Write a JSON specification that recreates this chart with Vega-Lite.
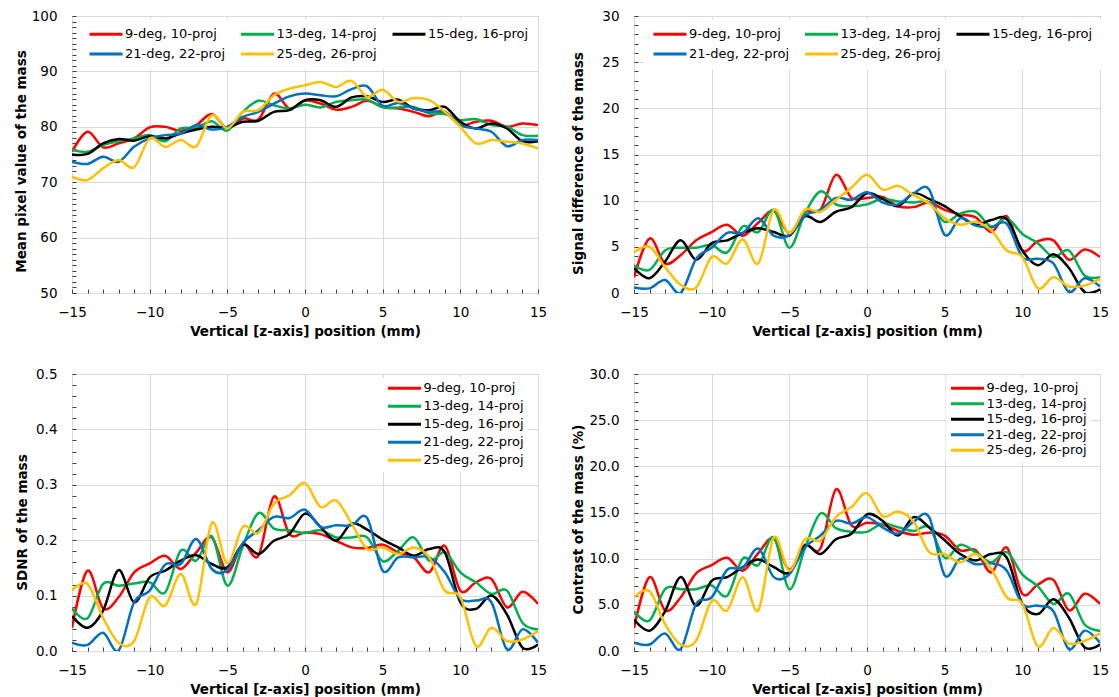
{
"$schema": "https://vega.github.io/schema/vega-lite/v6.json",
"autosize": "none",
"padding": {"left": 72, "top": 16, "right": 1047, "bottom": 681},
"background": "white",
"config": {
  "font": "DejaVu Sans",
  "view": {"stroke": "#595959", "strokeWidth": 1},
  "axis": {"domain": false, "labelFont": "DejaVu Sans", "labelFontSize": 13.5, "labelColor": "#000000", "titleFont": "DejaVu Sans", "titleFontSize": 13.5, "titleFontWeight": "bold", "titleColor": "#000000", "gridColor": "#D9D9D9", "tickColor": "#404040", "tickSize": -4, "tickWidth": 1, "labelFlush": false, "labelOverlap": false, "titleBaseline": "middle"},
  "axisX": {"labelPadding": 16},
  "axisY": {"labelPadding": 19},
  "legend": {"orient": "none", "labelFont": "DejaVu Sans", "labelFontSize": 13, "labelColor": "#000000", "symbolType": "M-1,0H5.6", "symbolSize": 100, "symbolStrokeWidth": 3, "labelOffset": 24, "fillColor": "#FFFFFF"}
},
"data": {"values": [
{"s":"9-deg, 10-proj","x":-15,"m":75.5,"d":1.7,"n":0.042,"c":2.5},
{"s":"9-deg, 10-proj","x":-14,"m":79.1,"d":5.9,"n":0.145,"c":8.0},
{"s":"9-deg, 10-proj","x":-13,"m":76.3,"d":3.2,"n":0.077,"c":4.4},
{"s":"9-deg, 10-proj","x":-12,"m":77.0,"d":4.1,"n":0.097,"c":5.8},
{"s":"9-deg, 10-proj","x":-11,"m":77.9,"d":5.7,"n":0.142,"c":8.4},
{"s":"9-deg, 10-proj","x":-10,"m":79.9,"d":6.6,"n":0.158,"c":9.3},
{"s":"9-deg, 10-proj","x":-9,"m":80.0,"d":7.4,"n":0.172,"c":10.1},
{"s":"9-deg, 10-proj","x":-8,"m":79.3,"d":6.2,"n":0.148,"c":8.7},
{"s":"9-deg, 10-proj","x":-7,"m":80.3,"d":7.6,"n":0.178,"c":10.6},
{"s":"9-deg, 10-proj","x":-6,"m":82.3,"d":8.9,"n":0.205,"c":12.2},
{"s":"9-deg, 10-proj","x":-5,"m":79.7,"d":6.5,"n":0.142,"c":8.8},
{"s":"9-deg, 10-proj","x":-4,"m":81.5,"d":8.8,"n":0.193,"c":11.5},
{"s":"9-deg, 10-proj","x":-3,"m":81.3,"d":9.0,"n":0.172,"c":11.1},
{"s":"9-deg, 10-proj","x":-2,"m":86.0,"d":12.8,"n":0.279,"c":17.5},
{"s":"9-deg, 10-proj","x":-1,"m":83.3,"d":10.3,"n":0.211,"c":13.6},
{"s":"9-deg, 10-proj","x":0,"m":84.7,"d":10.3,"n":0.214,"c":13.9},
{"s":"9-deg, 10-proj","x":1,"m":84.2,"d":10.4,"n":0.211,"c":13.7},
{"s":"9-deg, 10-proj","x":2,"m":83.1,"d":9.4,"n":0.199,"c":13.0},
{"s":"9-deg, 10-proj","x":3,"m":83.6,"d":9.3,"n":0.187,"c":12.6},
{"s":"9-deg, 10-proj","x":4,"m":84.7,"d":9.8,"n":0.186,"c":12.8},
{"s":"9-deg, 10-proj","x":5,"m":83.6,"d":9.0,"n":0.192,"c":12.5},
{"s":"9-deg, 10-proj","x":6,"m":83.3,"d":8.5,"n":0.178,"c":10.9},
{"s":"9-deg, 10-proj","x":7,"m":82.7,"d":8.2,"n":0.169,"c":10.9},
{"s":"9-deg, 10-proj","x":8,"m":81.9,"d":6.6,"n":0.142,"c":8.5},
{"s":"9-deg, 10-proj","x":9,"m":82.7,"d":8.3,"n":0.190,"c":11.2},
{"s":"9-deg, 10-proj","x":10,"m":80.3,"d":4.6,"n":0.109,"c":6.2},
{"s":"9-deg, 10-proj","x":11,"m":80.9,"d":5.6,"n":0.124,"c":7.2},
{"s":"9-deg, 10-proj","x":12,"m":81.1,"d":5.7,"n":0.130,"c":7.7},
{"s":"9-deg, 10-proj","x":13,"m":80.0,"d":3.6,"n":0.079,"c":4.4},
{"s":"9-deg, 10-proj","x":14,"m":80.6,"d":4.7,"n":0.107,"c":6.2},
{"s":"9-deg, 10-proj","x":15,"m":80.3,"d":3.9,"n":0.085,"c":5.1},
{"s":"13-deg, 14-proj","x":-15,"m":75.8,"d":3.0,"n":0.077,"c":4.3},
{"s":"13-deg, 14-proj","x":-14,"m":75.5,"d":2.5,"n":0.059,"c":3.3},
{"s":"13-deg, 14-proj","x":-13,"m":76.7,"d":4.6,"n":0.121,"c":6.7},
{"s":"13-deg, 14-proj","x":-12,"m":77.4,"d":4.9,"n":0.118,"c":6.7},
{"s":"13-deg, 14-proj","x":-11,"m":77.9,"d":4.9,"n":0.122,"c":6.7},
{"s":"13-deg, 14-proj","x":-10,"m":78.5,"d":5.2,"n":0.124,"c":7.1},
{"s":"13-deg, 14-proj","x":-9,"m":77.4,"d":4.4,"n":0.106,"c":6.0},
{"s":"13-deg, 14-proj","x":-8,"m":79.7,"d":7.2,"n":0.181,"c":10.0},
{"s":"13-deg, 14-proj","x":-7,"m":79.8,"d":6.6,"n":0.163,"c":9.3},
{"s":"13-deg, 14-proj","x":-6,"m":81.0,"d":9.0,"n":0.207,"c":12.3},
{"s":"13-deg, 14-proj","x":-5,"m":79.3,"d":4.9,"n":0.118,"c":6.7},
{"s":"13-deg, 14-proj","x":-4,"m":82.7,"d":8.6,"n":0.189,"c":11.1},
{"s":"13-deg, 14-proj","x":-3,"m":84.7,"d":11.0,"n":0.249,"c":14.9},
{"s":"13-deg, 14-proj","x":-2,"m":83.9,"d":9.6,"n":0.221,"c":13.3},
{"s":"13-deg, 14-proj","x":-1,"m":83.3,"d":9.4,"n":0.218,"c":12.9},
{"s":"13-deg, 14-proj","x":0,"m":84.0,"d":9.6,"n":0.213,"c":12.9},
{"s":"13-deg, 14-proj","x":1,"m":83.5,"d":10.2,"n":0.218,"c":13.8},
{"s":"13-deg, 14-proj","x":2,"m":84.5,"d":9.9,"n":0.205,"c":13.4},
{"s":"13-deg, 14-proj","x":3,"m":84.8,"d":9.8,"n":0.205,"c":13.0},
{"s":"13-deg, 14-proj","x":4,"m":84.9,"d":9.8,"n":0.205,"c":13.4},
{"s":"13-deg, 14-proj","x":5,"m":83.5,"d":7.7,"n":0.162,"c":10.1},
{"s":"13-deg, 14-proj","x":6,"m":83.5,"d":8.6,"n":0.181,"c":11.5},
{"s":"13-deg, 14-proj","x":7,"m":83.6,"d":8.8,"n":0.205,"c":10.7},
{"s":"13-deg, 14-proj","x":8,"m":82.4,"d":7.2,"n":0.163,"c":9.6},
{"s":"13-deg, 14-proj","x":9,"m":82.3,"d":8.1,"n":0.178,"c":10.7},
{"s":"13-deg, 14-proj","x":10,"m":81.2,"d":6.4,"n":0.142,"c":8.3},
{"s":"13-deg, 14-proj","x":11,"m":81.4,"d":5.4,"n":0.124,"c":7.0},
{"s":"13-deg, 14-proj","x":12,"m":80.3,"d":3.9,"n":0.103,"c":5.1},
{"s":"13-deg, 14-proj","x":13,"m":80.0,"d":4.6,"n":0.109,"c":6.2},
{"s":"13-deg, 14-proj","x":14,"m":78.5,"d":1.9,"n":0.051,"c":2.9},
{"s":"13-deg, 14-proj","x":15,"m":78.4,"d":1.7,"n":0.039,"c":2.2},
{"s":"15-deg, 16-proj","x":-15,"m":75.0,"d":2.7,"n":0.063,"c":3.4},
{"s":"15-deg, 16-proj","x":-14,"m":75.1,"d":1.6,"n":0.042,"c":2.2},
{"s":"15-deg, 16-proj","x":-13,"m":77.0,"d":3.4,"n":0.073,"c":4.3},
{"s":"15-deg, 16-proj","x":-12,"m":77.8,"d":5.7,"n":0.146,"c":8.0},
{"s":"15-deg, 16-proj","x":-11,"m":77.5,"d":3.6,"n":0.088,"c":4.9},
{"s":"15-deg, 16-proj","x":-10,"m":78.3,"d":5.4,"n":0.133,"c":7.6},
{"s":"15-deg, 16-proj","x":-9,"m":77.9,"d":5.7,"n":0.145,"c":8.0},
{"s":"15-deg, 16-proj","x":-8,"m":78.8,"d":6.5,"n":0.163,"c":9.1},
{"s":"15-deg, 16-proj","x":-7,"m":79.5,"d":7.0,"n":0.173,"c":9.9},
{"s":"15-deg, 16-proj","x":-6,"m":80.0,"d":6.6,"n":0.157,"c":9.1},
{"s":"15-deg, 16-proj","x":-5,"m":79.9,"d":6.2,"n":0.151,"c":8.5},
{"s":"15-deg, 16-proj","x":-4,"m":80.9,"d":8.3,"n":0.192,"c":11.4},
{"s":"15-deg, 16-proj","x":-3,"m":81.1,"d":7.7,"n":0.175,"c":10.5},
{"s":"15-deg, 16-proj","x":-2,"m":82.7,"d":8.8,"n":0.199,"c":12.1},
{"s":"15-deg, 16-proj","x":-1,"m":83.0,"d":9.3,"n":0.211,"c":12.7},
{"s":"15-deg, 16-proj","x":0,"m":84.8,"d":10.8,"n":0.248,"c":14.8},
{"s":"15-deg, 16-proj","x":1,"m":84.8,"d":10.2,"n":0.224,"c":14.1},
{"s":"15-deg, 16-proj","x":2,"m":83.6,"d":9.4,"n":0.199,"c":12.5},
{"s":"15-deg, 16-proj","x":3,"m":85.3,"d":10.8,"n":0.230,"c":14.5},
{"s":"15-deg, 16-proj","x":4,"m":85.5,"d":10.2,"n":0.219,"c":13.4},
{"s":"15-deg, 16-proj","x":5,"m":84.5,"d":9.4,"n":0.201,"c":12.0},
{"s":"15-deg, 16-proj","x":6,"m":84.9,"d":8.3,"n":0.187,"c":10.5},
{"s":"15-deg, 16-proj","x":7,"m":83.3,"d":7.4,"n":0.172,"c":9.8},
{"s":"15-deg, 16-proj","x":8,"m":83.0,"d":7.9,"n":0.184,"c":10.5},
{"s":"15-deg, 16-proj","x":9,"m":83.6,"d":8.0,"n":0.178,"c":10.1},
{"s":"15-deg, 16-proj","x":10,"m":80.9,"d":4.6,"n":0.088,"c":5.1},
{"s":"15-deg, 16-proj","x":11,"m":79.7,"d":3.0,"n":0.076,"c":4.0},
{"s":"15-deg, 16-proj","x":12,"m":80.6,"d":4.2,"n":0.100,"c":5.6},
{"s":"15-deg, 16-proj","x":13,"m":79.7,"d":2.7,"n":0.066,"c":3.6},
{"s":"15-deg, 16-proj","x":14,"m":77.4,"d":0.1,"n":0.006,"c":0.4},
{"s":"15-deg, 16-proj","x":15,"m":77.4,"d":0.4,"n":0.012,"c":0.7},
{"s":"21-deg, 22-proj","x":-15,"m":73.7,"d":0.6,"n":0.015,"c":0.9},
{"s":"21-deg, 22-proj","x":-14,"m":73.3,"d":0.5,"n":0.011,"c":0.7},
{"s":"21-deg, 22-proj","x":-13,"m":74.6,"d":1.4,"n":0.033,"c":1.9},
{"s":"21-deg, 22-proj","x":-12,"m":73.7,"d":0.0,"n":0.001,"c":0.2},
{"s":"21-deg, 22-proj","x":-11,"m":76.4,"d":3.7,"n":0.088,"c":5.1},
{"s":"21-deg, 22-proj","x":-10,"m":77.9,"d":4.9,"n":0.109,"c":5.8},
{"s":"21-deg, 22-proj","x":-9,"m":78.5,"d":6.5,"n":0.156,"c":8.8},
{"s":"21-deg, 22-proj","x":-8,"m":78.8,"d":6.5,"n":0.157,"c":9.0},
{"s":"21-deg, 22-proj","x":-7,"m":80.3,"d":8.1,"n":0.202,"c":11.1},
{"s":"21-deg, 22-proj","x":-6,"m":79.5,"d":6.2,"n":0.148,"c":8.0},
{"s":"21-deg, 22-proj","x":-5,"m":80.0,"d":6.3,"n":0.146,"c":8.3},
{"s":"21-deg, 22-proj","x":-4,"m":81.8,"d":8.4,"n":0.195,"c":11.2},
{"s":"21-deg, 22-proj","x":-3,"m":82.7,"d":9.0,"n":0.218,"c":12.5},
{"s":"21-deg, 22-proj","x":-2,"m":84.2,"d":10.3,"n":0.242,"c":14.1},
{"s":"21-deg, 22-proj","x":-1,"m":85.5,"d":10.1,"n":0.240,"c":13.8},
{"s":"21-deg, 22-proj","x":0,"m":86.0,"d":10.9,"n":0.255,"c":14.5},
{"s":"21-deg, 22-proj","x":1,"m":85.7,"d":9.8,"n":0.224,"c":13.4},
{"s":"21-deg, 22-proj","x":2,"m":85.5,"d":9.6,"n":0.227,"c":12.7},
{"s":"21-deg, 22-proj","x":3,"m":86.8,"d":10.8,"n":0.227,"c":14.0},
{"s":"21-deg, 22-proj","x":4,"m":87.3,"d":11.2,"n":0.240,"c":14.5},
{"s":"21-deg, 22-proj","x":5,"m":83.8,"d":6.3,"n":0.145,"c":8.2},
{"s":"21-deg, 22-proj","x":6,"m":84.3,"d":8.1,"n":0.169,"c":10.0},
{"s":"21-deg, 22-proj","x":7,"m":83.3,"d":7.3,"n":0.169,"c":9.4},
{"s":"21-deg, 22-proj","x":8,"m":82.7,"d":7.1,"n":0.169,"c":9.5},
{"s":"21-deg, 22-proj","x":9,"m":82.7,"d":7.5,"n":0.142,"c":8.7},
{"s":"21-deg, 22-proj","x":10,"m":80.3,"d":3.9,"n":0.094,"c":5.1},
{"s":"21-deg, 22-proj","x":11,"m":79.7,"d":3.7,"n":0.091,"c":4.9},
{"s":"21-deg, 22-proj","x":12,"m":79.1,"d":3.2,"n":0.088,"c":4.3},
{"s":"21-deg, 22-proj","x":13,"m":76.5,"d":0.1,"n":0.003,"c":0.2},
{"s":"21-deg, 22-proj","x":14,"m":77.6,"d":1.6,"n":0.039,"c":2.2},
{"s":"21-deg, 22-proj","x":15,"m":77.6,"d":0.7,"n":0.015,"c":0.9},
{"s":"25-deg, 26-proj","x":-15,"m":71.0,"d":4.4,"n":0.109,"c":5.8},
{"s":"25-deg, 26-proj","x":-14,"m":70.4,"d":5.0,"n":0.121,"c":6.5},
{"s":"25-deg, 26-proj","x":-13,"m":72.5,"d":2.8,"n":0.060,"c":2.9},
{"s":"25-deg, 26-proj","x":-12,"m":74.0,"d":0.9,"n":0.015,"c":0.7},
{"s":"25-deg, 26-proj","x":-11,"m":72.7,"d":0.6,"n":0.018,"c":1.1},
{"s":"25-deg, 26-proj","x":-10,"m":77.9,"d":3.9,"n":0.097,"c":5.4},
{"s":"25-deg, 26-proj","x":-9,"m":76.4,"d":3.2,"n":0.082,"c":4.4},
{"s":"25-deg, 26-proj","x":-8,"m":77.6,"d":5.8,"n":0.139,"c":8.0},
{"s":"25-deg, 26-proj","x":-7,"m":76.5,"d":3.2,"n":0.085,"c":4.4},
{"s":"25-deg, 26-proj","x":-6,"m":82.1,"d":9.0,"n":0.231,"c":12.3},
{"s":"25-deg, 26-proj","x":-5,"m":79.7,"d":6.5,"n":0.158,"c":8.7},
{"s":"25-deg, 26-proj","x":-4,"m":82.7,"d":9.0,"n":0.224,"c":12.1},
{"s":"25-deg, 26-proj","x":-3,"m":83.0,"d":8.8,"n":0.213,"c":12.0},
{"s":"25-deg, 26-proj","x":-2,"m":85.7,"d":10.1,"n":0.266,"c":14.5},
{"s":"25-deg, 26-proj","x":-1,"m":86.9,"d":11.4,"n":0.281,"c":15.6},
{"s":"25-deg, 26-proj","x":0,"m":87.5,"d":12.8,"n":0.303,"c":17.1},
{"s":"25-deg, 26-proj","x":1,"m":88.1,"d":11.2,"n":0.260,"c":14.6},
{"s":"25-deg, 26-proj","x":2,"m":87.2,"d":11.6,"n":0.272,"c":15.1},
{"s":"25-deg, 26-proj","x":3,"m":88.3,"d":10.6,"n":0.230,"c":14.0},
{"s":"25-deg, 26-proj","x":4,"m":85.4,"d":9.7,"n":0.184,"c":10.7},
{"s":"25-deg, 26-proj","x":5,"m":86.7,"d":8.1,"n":0.187,"c":10.5},
{"s":"25-deg, 26-proj","x":6,"m":84.5,"d":7.4,"n":0.175,"c":9.6},
{"s":"25-deg, 26-proj","x":7,"m":85.2,"d":7.7,"n":0.187,"c":10.5},
{"s":"25-deg, 26-proj","x":8,"m":84.8,"d":6.8,"n":0.169,"c":8.9},
{"s":"25-deg, 26-proj","x":9,"m":82.7,"d":4.6,"n":0.109,"c":5.8},
{"s":"25-deg, 26-proj","x":10,"m":80.0,"d":3.9,"n":0.097,"c":5.1},
{"s":"25-deg, 26-proj","x":11,"m":77.0,"d":0.5,"n":0.009,"c":0.5},
{"s":"25-deg, 26-proj","x":12,"m":77.6,"d":1.7,"n":0.042,"c":2.5},
{"s":"25-deg, 26-proj","x":13,"m":77.3,"d":0.7,"n":0.018,"c":0.8},
{"s":"25-deg, 26-proj","x":14,"m":77.0,"d":0.8,"n":0.021,"c":1.1},
{"s":"25-deg, 26-proj","x":15,"m":76.1,"d":1.5,"n":0.036,"c":1.9}
]},
"columns": 2,
"spacing": {"row": 81, "column": 96},
"bounds": "flush",
"resolve": {"scale": {"color": "independent"}, "legend": {"color": "independent"}},
"concat": [
{
  "width": 466, "height": 277,
  "mark": {"type": "line", "interpolate": "cardinal", "strokeWidth": 2.5, "clip": true},
  "encoding": {
    "x": {"field": "x", "type": "quantitative", "scale": {"domain": [-15, 15], "nice": false, "zero": false},
      "axis": {"title": "Vertical [z-axis] position (mm)", "values": [-15,-14,-13,-12,-11,-10,-9,-8,-7,-6,-5,-4,-3,-2,-1,0,1,2,3,4,5,6,7,8,9,10,11,12,13,14,15], "labelExpr": "datum.value % 5 === 0 ? datum.label : ''", "gridOpacity": {"condition": {"test": "datum.value % 5 === 0", "value": 1}, "value": 0}, "titleY": 38}},
    "y": {"field": "m", "type": "quantitative", "scale": {"domain": [50, 100], "nice": false, "zero": false},
      "axis": {"title": "Mean pixel value of the mass", "values": [50,51,52,53,54,55,56,57,58,59,60,61,62,63,64,65,66,67,68,69,70,71,72,73,74,75,76,77,78,79,80,81,82,83,84,85,86,87,88,89,90,91,92,93,94,95,96,97,98,99,100], "format": "d", "labelExpr": "datum.value % 10 === 0 ? datum.label : ''", "gridOpacity": {"condition": {"test": "datum.value % 10 === 0", "value": 1}, "value": 0}, "titleX": -51, "titleY": 145}},
    "color": {"field": "s", "type": "nominal", "sort": null,
      "scale": {"domain": ["9-deg, 10-proj", "13-deg, 14-proj", "15-deg, 16-proj", "21-deg, 22-proj", "25-deg, 26-proj"], "range": ["#FF0000", "#00B050", "#000000", "#0070C0", "#FFC000"]},
      "legend": {"title": null, "columns": 3, "direction": "horizontal", "legendX": 8, "legendY": 3.5, "padding": 8, "rowPadding": 6, "columnPadding": 8.5}}
  }
},
{
  "width": 466, "height": 277,
  "mark": {"type": "line", "interpolate": "cardinal", "strokeWidth": 2.5, "clip": true},
  "encoding": {
    "x": {"field": "x", "type": "quantitative", "scale": {"domain": [-15, 15], "nice": false, "zero": false},
      "axis": {"title": "Vertical [z-axis] position (mm)", "values": [-15,-14,-13,-12,-11,-10,-9,-8,-7,-6,-5,-4,-3,-2,-1,0,1,2,3,4,5,6,7,8,9,10,11,12,13,14,15], "labelExpr": "datum.value % 5 === 0 ? datum.label : ''", "gridOpacity": {"condition": {"test": "datum.value % 5 === 0", "value": 1}, "value": 0}, "titleY": 38}},
    "y": {"field": "d", "type": "quantitative", "scale": {"domain": [0, 30], "nice": false},
      "axis": {"title": "Signal difference of  the mass", "values": [0,1,2,3,4,5,6,7,8,9,10,11,12,13,14,15,16,17,18,19,20,21,22,23,24,25,26,27,28,29,30], "format": "d", "labelExpr": "datum.value % 5 === 0 ? datum.label : ''", "gridOpacity": {"condition": {"test": "datum.value % 5 === 0", "value": 1}, "value": 0}, "titleX": -56, "titleY": 147}},
    "color": {"field": "s", "type": "nominal", "sort": null,
      "scale": {"domain": ["9-deg, 10-proj", "13-deg, 14-proj", "15-deg, 16-proj", "21-deg, 22-proj", "25-deg, 26-proj"], "range": ["#FF0000", "#00B050", "#000000", "#0070C0", "#FFC000"]},
      "legend": {"title": null, "columns": 3, "direction": "horizontal", "legendX": 10, "legendY": 3.5, "padding": 8, "rowPadding": 6, "columnPadding": 8.5}}
  }
},
{
  "width": 466, "height": 277,
  "mark": {"type": "line", "interpolate": "cardinal", "strokeWidth": 2.5, "clip": true},
  "encoding": {
    "x": {"field": "x", "type": "quantitative", "scale": {"domain": [-15, 15], "nice": false, "zero": false},
      "axis": {"title": "Vertical [z-axis] position (mm)", "values": [-15,-14,-13,-12,-11,-10,-9,-8,-7,-6,-5,-4,-3,-2,-1,0,1,2,3,4,5,6,7,8,9,10,11,12,13,14,15], "labelExpr": "datum.value % 5 === 0 ? datum.label : ''", "gridOpacity": {"condition": {"test": "datum.value % 5 === 0", "value": 1}, "value": 0}, "titleY": 38}},
    "y": {"field": "n", "type": "quantitative", "scale": {"domain": [0, 0.5], "nice": false},
      "axis": {"title": "SDNR of the mass", "values": [0,0.02,0.04,0.06,0.08,0.1,0.12,0.14,0.16,0.18,0.2,0.22,0.24,0.26,0.28,0.3,0.32,0.34,0.36,0.38,0.4,0.42,0.44,0.46,0.48,0.5], "format": ".1f", "labelExpr": "abs(datum.value * 10 - round(datum.value * 10)) < 0.001 ? datum.label : ''", "gridOpacity": {"condition": {"test": "abs(datum.value * 10 - round(datum.value * 10)) < 0.001", "value": 1}, "value": 0}, "titleX": -50, "titleY": 148}},
    "color": {"field": "s", "type": "nominal", "sort": null,
      "scale": {"domain": ["9-deg, 10-proj", "13-deg, 14-proj", "15-deg, 16-proj", "21-deg, 22-proj", "25-deg, 26-proj"], "range": ["#FF0000", "#00B050", "#000000", "#0070C0", "#FFC000"]},
      "legend": {"title": null, "legendX": 310.5, "legendY": 3.8, "padding": 4, "rowPadding": 4}}
  }
},
{
  "width": 466, "height": 277,
  "mark": {"type": "line", "interpolate": "cardinal", "strokeWidth": 2.5, "clip": true},
  "encoding": {
    "x": {"field": "x", "type": "quantitative", "scale": {"domain": [-15, 15], "nice": false, "zero": false},
      "axis": {"title": "Vertical [z-axis] position (mm)", "values": [-15,-14,-13,-12,-11,-10,-9,-8,-7,-6,-5,-4,-3,-2,-1,0,1,2,3,4,5,6,7,8,9,10,11,12,13,14,15], "labelExpr": "datum.value % 5 === 0 ? datum.label : ''", "gridOpacity": {"condition": {"test": "datum.value % 5 === 0", "value": 1}, "value": 0}, "titleY": 38}},
    "y": {"field": "c", "type": "quantitative", "scale": {"domain": [0, 30], "nice": false},
      "axis": {"title": "Contrast of the mass (%)", "values": [0,1,2,3,4,5,6,7,8,9,10,11,12,13,14,15,16,17,18,19,20,21,22,23,24,25,26,27,28,29,30], "format": ".1f", "labelExpr": "datum.value % 5 === 0 ? datum.label : ''", "gridOpacity": {"condition": {"test": "datum.value % 5 === 0", "value": 1}, "value": 0}, "titleX": -56, "titleY": 145}},
    "color": {"field": "s", "type": "nominal", "sort": null,
      "scale": {"domain": ["9-deg, 10-proj", "13-deg, 14-proj", "15-deg, 16-proj", "21-deg, 22-proj", "25-deg, 26-proj"], "range": ["#FF0000", "#00B050", "#000000", "#0070C0", "#FFC000"]},
      "legend": {"title": null, "legendX": 311.5, "legendY": 3.8, "padding": 4, "rowPadding": 1.5}}
  }
}
]
}
